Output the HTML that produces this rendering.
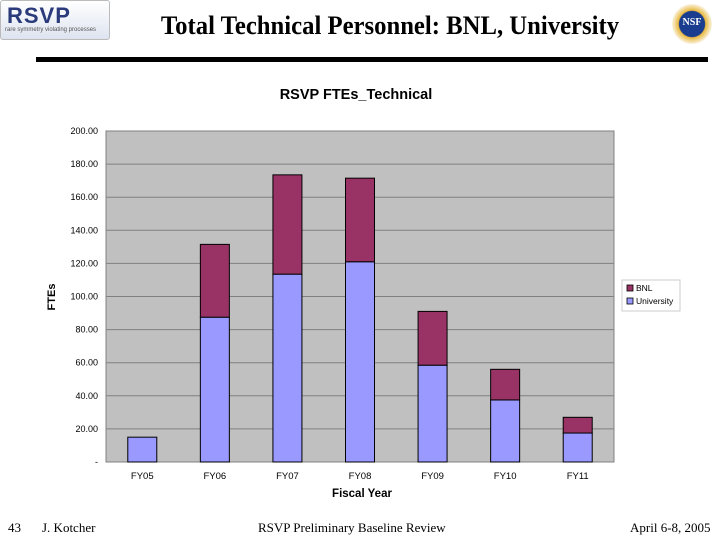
<!DOCTYPE html>
<html><head><meta charset="utf-8"><style>
body{margin:0;width:720px;height:540px;background:#fff;overflow:hidden;position:relative;font-family:"Liberation Sans",sans-serif}
.t{position:absolute}
</style></head><body>
<div class="t" style="left:0;top:0;width:108px;height:38px;border:1px solid #bbb;border-radius:3px;background:linear-gradient(#fff,#dde4f0)">
<div style="position:absolute;left:6px;top:2px;font:bold 22px 'Liberation Sans',sans-serif;color:#2a3a7a;letter-spacing:1px">RSVP</div>
<div style="position:absolute;left:4px;top:26px;font:6px 'Liberation Sans',sans-serif;color:#555">rare symmetry violating processes</div></div>
<div class="t" style="left:110px;top:11px;width:560px;text-align:center;font:bold 26px 'Liberation Serif',serif;color:#000;transform:scaleX(0.95)">Total Technical Personnel: BNL, University</div>
<div class="t" style="left:672px;top:4px;width:40px;height:40px;border-radius:50%;background:radial-gradient(#1a3d8f 45%,#e8b840 48%,#fff 75%)"><div style="position:absolute;top:13px;width:40px;text-align:center;font:bold 10px 'Liberation Serif',serif;color:#fff">NSF</div></div>
<div class="t" style="left:36px;top:57px;width:672px;height:5px;background:#000"></div>
<svg class="t" style="left:0;top:0" width="720" height="540" id="chart"></svg>
<div class="t" style="left:8px;top:520px;font:13px 'Liberation Serif',serif">43</div>
<div class="t" style="left:42px;top:520px;font:13px 'Liberation Serif',serif">J. Kotcher</div>
<div class="t" style="left:258px;top:520px;font:13px 'Liberation Serif',serif">RSVP Preliminary Baseline Review</div>
<div class="t" style="left:630px;top:520px;font:13px 'Liberation Serif',serif">April 6-8, 2005</div>
<script>
const categories=["FY05","FY06","FY07","FY08","FY09","FY10","FY11"];
const university=[15,87.5,113.5,121,58.5,37.5,17.5];
const bnl=[0,44,60,50.5,32.5,18.5,9.5];
const yTicks=[0,20,40,60,80,100,120,140,160,180,200];
const yTickLabels=["-","20.00","40.00","60.00","80.00","100.00","120.00","140.00","160.00","180.00","200.00"];
const svg=document.getElementById('chart');
const NS="http://www.w3.org/2000/svg";
const L=106,R=614,T=131,B=462,ymax=200;
const y=v=>B-(v/ymax)*(B-T);
const cw=(R-L)/categories.length;
const x=i=>L+cw*i+cw/2;
function mk(tag,a,txt){const e=document.createElementNS(NS,tag);for(const k in a)e.setAttribute(k,a[k]);if(txt!==undefined)e.textContent=txt;svg.appendChild(e);return e;}
let e=mk('rect',{x:L,y:T,width:R-L,height:B-T,fill:'#c0c0c0',stroke:'#808080'});

e=mk('text',{x:356,y:99,'text-anchor':'middle','font-size':14.5,'font-weight':'bold','font-family':'Liberation Sans, sans-serif'},'RSVP FTEs_Technical');

yTicks.forEach((v,i)=>{
 if(v>0){e=mk('line',{x1:L,x2:R,y1:y(v),y2:y(v),stroke:'#808080'});}
 e=mk('text',{x:98,y:y(v)+3,'text-anchor':'end','font-size':9,'font-family':'Liberation Sans, sans-serif'},yTickLabels[i]);
 
});
const bw=29;
categories.forEach((c,i)=>{
 e=mk('rect',{x:x(i)-bw/2,y:y(university[i]),width:bw,height:B-y(university[i]),fill:'#9999ff',stroke:'#000'});
 
 if(bnl[i]>0){e=mk('rect',{x:x(i)-bw/2,y:y(university[i]+bnl[i]),width:bw,height:y(university[i])-y(university[i]+bnl[i]),fill:'#993366',stroke:'#000'});
 }
 e=mk('text',{x:x(i),y:479,'text-anchor':'middle','font-size':9.5,'font-family':'Liberation Sans, sans-serif'},c);
 
});
e=mk('text',{x:362,y:497,'text-anchor':'middle','font-size':11.5,'font-weight':'bold','font-family':'Liberation Sans, sans-serif'},'Fiscal Year');

e=mk('text',{x:0,y:0,transform:'translate(55,297) rotate(-90)','text-anchor':'middle','font-size':11,'font-weight':'bold','font-family':'Liberation Sans, sans-serif'},'FTEs');

e=mk('rect',{x:622,y:280,width:58,height:31,fill:'#fff',stroke:'#ccc'});

[["BNL","#993366",285],["University","#9999ff",298]].forEach(([n,c,yy])=>{
 e=mk('rect',{x:627,y:yy,width:6,height:6,fill:c,stroke:'#000','stroke-width':0.8});
 
 e=mk('text',{x:636,y:yy+6,'font-size':8.5,'font-family':'Liberation Sans, sans-serif'},n);
 
});
</script>
</body></html>
